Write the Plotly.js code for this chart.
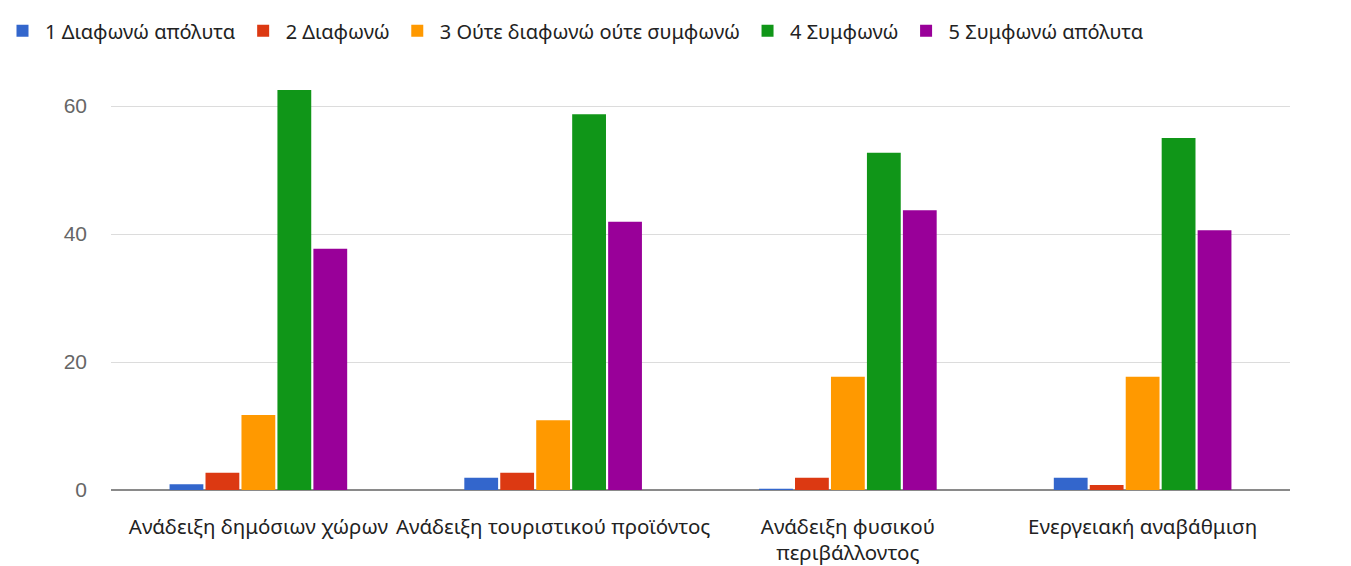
<!DOCTYPE html>
<html>
<head>
<meta charset="utf-8">
<script src="https://cdn.plot.ly/plotly-3.0.1.min.js"></script>
<style>html,body{margin:0;padding:0;background:#fff;}#chart{width:1351px;height:566px;}</style>
</head>
<body>
<div id="chart"></div>
<script>
const categories = ["Ανάδειξη δημόσιων χώρων", "Ανάδειξη τουριστικού προϊόντος", "Ανάδειξη φυσικού<br>περιβάλλοντος", "Ενεργειακή αναβάθμιση"];
const seriesNames = ["1 Διαφωνώ απόλυτα", "2 Διαφωνώ", "3 Ούτε διαφωνώ ούτε συμφωνώ", "4 Συμφωνώ", "5 Συμφωνώ απόλυτα"];
const s1 = [0.9, 1.9, 0.2, 1.9];
const s2 = [2.7, 2.7, 1.9, 0.8];
const s3 = [11.7, 10.9, 17.7, 17.7];
const s4 = [62.5, 58.7, 52.7, 55.0];
const s5 = [37.7, 41.9, 43.7, 40.6];
const colors = ["#3366cc", "#dc3912", "#ff9900", "#109618", "#990099"];
const yTicks = [0, 20, 40, 60];

const allSeries = [s1, s2, s3, s4, s5];
const traces = allSeries.map((vals, i) => ({
  type: "bar",
  name: seriesNames[i],
  x: categories,
  y: vals,
  marker: {color: colors[i]},
  hoverinfo: "y+name"
}));

const layout = {
  width: 1351, height: 566,
  margin: {l: 111, r: 61, t: 74, b: 76},
  paper_bgcolor: "#fff", plot_bgcolor: "#fff",
  font: {family: "Noto Sans, Open Sans, sans-serif", size: 16, color: "#222"},
  barmode: "group",
  bargap: 0.39,
  bargroupgap: 0.06,
  showlegend: true,
  legend: {orientation: "h", xref: "container", yref: "container", x: 0, xanchor: "left", y: 0.98, yanchor: "top",
           font: {size: 20, color: "#222"}, itemwidth: 35, tracegroupgap: 0},
  xaxis: {
    type: "category",
    showgrid: false, showline: false, zeroline: false,
    ticks: "", ticklabelstandoff: 22,
    tickfont: {size: 20.5, color: "#222"}
  },
  yaxis: {
    range: [0, 65],
    tickvals: yTicks, ticktext: yTicks.map(String),
    showgrid: true, gridcolor: "#dcdcdc", gridwidth: 1,
    zeroline: true, zerolinecolor: "#8a8a8a", zerolinewidth: 2,
    showline: false, ticks: "", ticklabelstandoff: 23,
    tickfont: {family: "Liberation Sans, Arial, sans-serif", size: 21, color: "#666"}
  }
};

Plotly.newPlot("chart", traces, layout, {displayModeBar: false, staticPlot: true});
</script>
</body>
</html>
